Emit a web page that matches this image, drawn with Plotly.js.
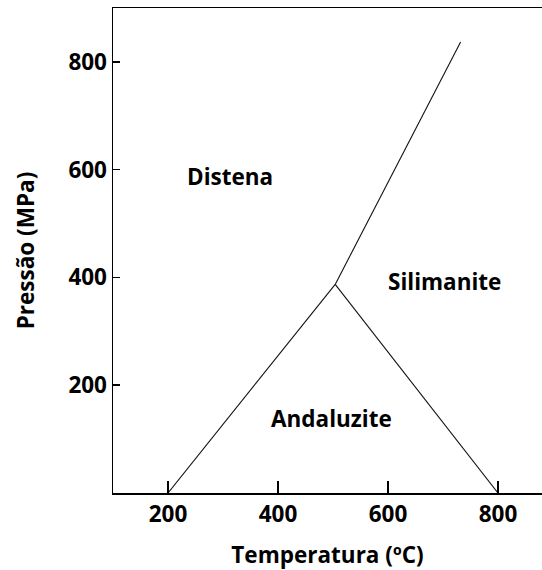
<!DOCTYPE html>
<html>
<head>
<meta charset="utf-8">
<script src="https://cdn.plot.ly/plotly-3.0.1.min.js"></script>
<style>html,body{margin:0;padding:0;background:#fff;}#chart{width:542px;height:570px;}</style>
</head>
<body>
<div id="chart"></div>
<script>
// Phase boundaries (Temperature °C, Pressure MPa)
const ky_and_T = [200, 504];
const ky_and_P = [0, 387];
const and_sil_T = [504, 800];
const and_sil_P = [387, 0];
const ky_sil_T = [504, 732];
const ky_sil_P = [387, 837];

const phaseNames = ["Distena", "Silimanite", "Andaluzite"];
const phaseT = [312, 703, 497];
const phaseP = [588, 392, 139];

const xTicks = [200, 400, 600, 800];
const yTicks = [200, 400, 600, 800];

const FS = 22.5;
const lineStyle = {color: "#111", width: 1.1};
const traces = [
  {x: ky_and_T, y: ky_and_P, mode: "lines", line: lineStyle, hoverinfo: "skip"},
  {x: and_sil_T, y: and_sil_P, mode: "lines", line: lineStyle, hoverinfo: "skip"},
  {x: ky_sil_T, y: ky_sil_P, mode: "lines", line: lineStyle, hoverinfo: "skip"}
];

const font = {family: "Open Sans, sans-serif", color: "#000"};
const annotations = phaseNames.map((n, i) => ({
  x: phaseT[i], y: phaseP[i], text: "<b>" + n + "</b>", showarrow: false,
  font: Object.assign({}, font, {size: FS}), xanchor: "center", yanchor: "middle"
}));

const layout = {
  width: 542, height: 570,
  margin: {l: 113, r: 0, t: 8, b: 77},
  paper_bgcolor: "#fff", plot_bgcolor: "#fff",
  showlegend: false,
  font: font,
  xaxis: {
    range: [100, 880], tickvals: xTicks, ticktext: xTicks.map(v => "<b>" + v + "</b>"),
    ticks: "inside", ticklen: 12, tickwidth: 1.5, tickcolor: "#000",
    showline: true, linecolor: "#000", linewidth: 1.5, mirror: true,
    showgrid: false, zeroline: false,
    tickfont: Object.assign({}, font, {size: FS}),
    title: {text: "<b>Temperatura (ºC)</b>", font: Object.assign({}, font, {size: FS}), standoff: 20}
  },
  yaxis: {
    range: [0, 900], tickvals: yTicks, ticktext: yTicks.map(v => "<b>" + v + "</b>"),
    ticks: "inside", ticklen: 7, tickwidth: 1.5, tickcolor: "#000",
    showline: true, linecolor: "#000", linewidth: 1.5, mirror: false,
    showgrid: false, zeroline: false,
    tickfont: Object.assign({}, font, {size: FS}),
    title: {text: "<b>Pressão (MPa)</b>", font: Object.assign({}, font, {size: FS}), standoff: 27}
  },
  annotations: annotations
};

Plotly.newPlot("chart", traces, layout, {displayModeBar: false, staticPlot: true});
</script>
</body>
</html>
